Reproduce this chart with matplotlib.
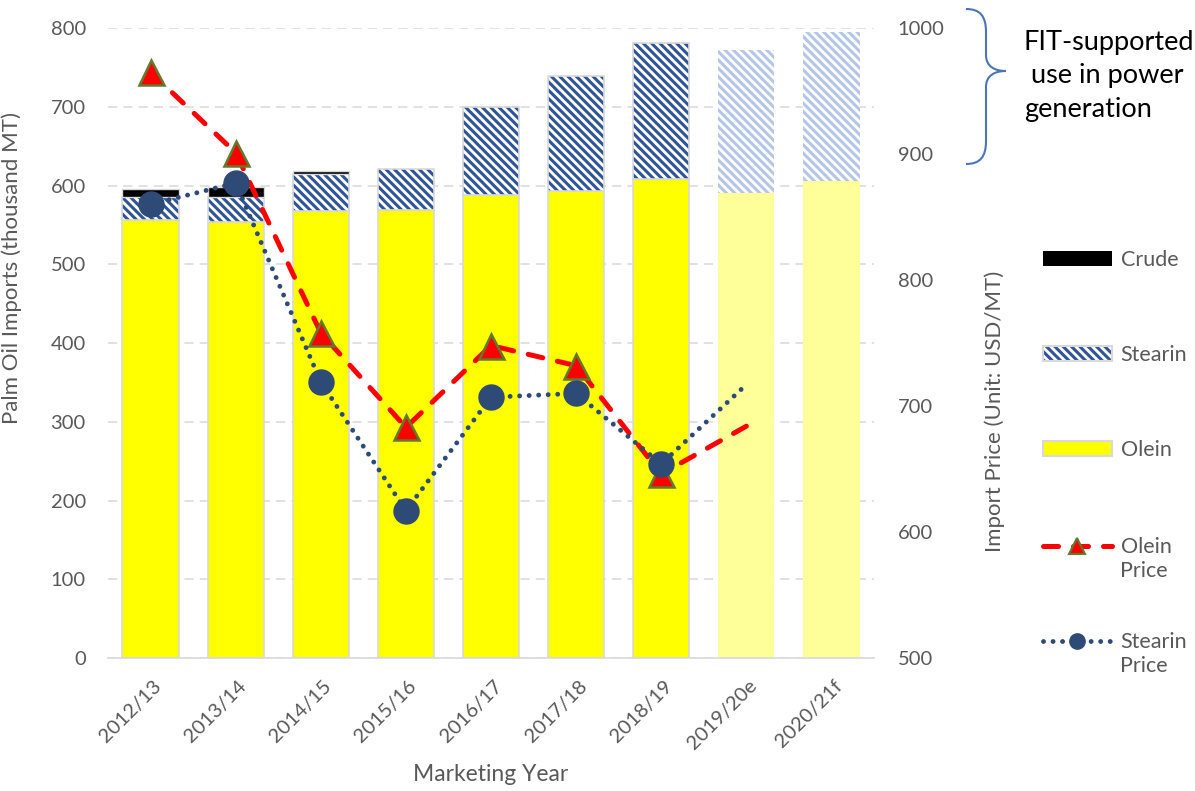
import numpy as np
import matplotlib
matplotlib.use("Agg")
import matplotlib.pyplot as plt
from matplotlib.patches import Patch, PathPatch
from matplotlib.lines import Line2D
from matplotlib.path import Path
from matplotlib.legend_handler import HandlerTuple, HandlerLine2D
from matplotlib.transforms import ScaledTranslation

plt.rcParams['font.family'] = ['Lato', 'DejaVu Sans']
plt.rcParams['hatch.linewidth'] = 2.2

years = ['2012/13', '2013/14', '2014/15', '2015/16', '2016/17', '2017/18',
         '2018/19', '2019/20e', '2020/21f']
olein = [556, 554, 567, 569, 588, 593, 608, 590, 606]
stearin = [29, 31, 48, 52, 112, 146, 173, 182, 189]
crude = [10, 13, 3, 0, 0, 0, 0, 0, 0]
n_actual = 7

olein_price = [965, 901, 758, 683, 748, 732, 646, 684]
stearin_price = [860, 877, 719, 617, 707, 710, 654, 717]

grey = '#595959'
edge = '#d9d9d9'
blue = '#2f5597'
light_blue = '#b4c7e7'
dot_blue = '#2e4a76'


class RaisedLine(HandlerLine2D):
    # put the line handle level with the first row of a two-line label
    def create_artists(self, legend, orig_handle, xdescent, ydescent, width, height,
                       fontsize, trans):
        return super().create_artists(legend, orig_handle, xdescent, ydescent - 20,
                                      width, height, fontsize, trans)


fig = plt.figure(figsize=(11.95, 7.91), dpi=100)
ax = fig.add_axes([0.0904, 0.1681, 0.641, 0.7965])
ax2 = ax.twinx()

x = np.arange(len(years))
olein = np.array(olein)
stearin = np.array(stearin)
crude = np.array(crude)
w = 0.66
act = x < n_actual
fc = ~act

# actual years
ax.bar(x[act], olein[act], w, color='#ffff00', edgecolor=edge, linewidth=1.2, zorder=2)
ax.bar(x[act], stearin[act], w, bottom=olein[act], color='white', edgecolor=blue,
       linewidth=0, hatch='\\\\\\\\', zorder=2)
ax.bar(x[act], stearin[act], w, bottom=olein[act], fill=False, edgecolor=edge,
       linewidth=1.2, zorder=2)
has_crude = act & (crude > 0)
ax.bar(x[has_crude], crude[has_crude], w, bottom=(olein + stearin)[has_crude],
       color='black', edgecolor=edge, linewidth=1.0, zorder=2)

# forecast years
ax.bar(x[fc], olein[fc], w, color='#ffff99', linewidth=0, zorder=2)
ax.bar(x[fc], stearin[fc], w, bottom=olein[fc], color='white', edgecolor=light_blue,
       linewidth=0, hatch='\\\\\\\\', zorder=2)

ax.set_xlim(-0.5, len(years) - 0.5)
ax.set_ylim(0, 800)
ax.set_yticks(range(0, 801, 100))
ax.set_axisbelow(True)
ax.yaxis.grid(True, color=edge, linestyle=(0, (6, 4)), linewidth=1.1)
for s in ['top', 'right', 'left']:
    ax.spines[s].set_visible(False)
ax.spines['bottom'].set_color(edge)
ax.spines['bottom'].set_linewidth(1.2)
ax.set_xticks(x)
ax.set_xticklabels(years, rotation=45, ha='right', va='center', rotation_mode='anchor')
ax.tick_params(axis='x', length=0, pad=18, labelsize=14.5, labelcolor=grey)
ax.tick_params(axis='y', length=0, pad=16, labelsize=14.5, labelcolor=grey)
shift = ScaledTranslation(0.08, 0, fig.dpi_scale_trans)
for lab in ax.get_xticklabels():
    lab.set_transform(lab.get_transform() + shift)
ax.set_xlabel('Marketing Year', fontsize=16.5, color=grey, labelpad=8)
ax.set_ylabel('Palm Oil Imports (thousand MT)', fontsize=16, color=grey)
ax.yaxis.set_label_coords(-0.112, 0.619)

# price lines
px = np.arange(len(olein_price))
ax2.plot(px, olein_price, color='#ff0000', linewidth=3.6, linestyle=(0, (3, 3)),
         dash_capstyle='round', marker='^', markersize=18, markerfacecolor='#ff0000',
         markeredgecolor='#617a2e', markeredgewidth=1.8, markevery=list(range(n_actual)),
         zorder=3)
ax2.plot(px, stearin_price, color=dot_blue, linewidth=3.5, linestyle=(0, (0.01, 1.95)),
         dash_capstyle='round', marker='o', markersize=18, markerfacecolor=dot_blue,
         markeredgecolor=dot_blue, markevery=list(range(n_actual)), zorder=4)
ax2.set_ylim(500, 1000)
ax2.set_yticks(range(500, 1001, 100))
for s in ['top', 'right', 'left', 'bottom']:
    ax2.spines[s].set_visible(False)
ax2.tick_params(axis='y', length=0, pad=17, labelsize=14.5, labelcolor=grey)
for lab in ax2.get_yticklabels():
    lab.set_ha('left')
ax2.set_ylabel('Import Price (Unit: USD/MT)', fontsize=16, color=grey)
ax2.yaxis.set_label_coords(1.1436, 0.392)

# legend, one entry per block so the spacing matches
crude_h = Patch(facecolor='black', edgecolor='none')
stearin_h = (Patch(facecolor='white', edgecolor=blue, linewidth=0, hatch='\\\\\\\\'),
             Patch(fill=False, edgecolor=edge, linewidth=1.5))
olein_h = Patch(facecolor='#ffff00', edgecolor=edge, linewidth=1.5)
olein_p = Line2D([], [], color='#ff0000', linewidth=3.6, linestyle=(0, (3, 3)),
                 dash_capstyle='round', marker='^', markersize=11,
                 markerfacecolor='#ff0000', markeredgecolor='#617a2e', markeredgewidth=1.5)
stearin_p = Line2D([], [], color=dot_blue, linewidth=3.5, linestyle=(0, (0.01, 1.95)),
                   dash_capstyle='round', marker='o', markersize=11,
                   markerfacecolor=dot_blue, markeredgecolor=dot_blue)
entries = [(crude_h, 'Crude', 260), (stearin_h, 'Stearin', 355), (olein_h, 'Olein', 450),
           (olein_p, 'Olein\nPrice', 559), (stearin_p, 'Stearin\nPrice', 654)]
for h, lab, yy in entries:
    fig.legend([h], [lab], loc='center left', bbox_to_anchor=(1043 / 1195, 1 - yy / 791),
               frameon=False, fontsize=15.5, handlelength=3.2, handletextpad=0.4,
               borderpad=0, borderaxespad=0, labelcolor=grey,
               handler_map={tuple: HandlerTuple(ndivide=1, pad=0), Line2D: RaisedLine()})

# brace + note
W, H = 1195.0, 791.0
pts = [(966, 9), (980, 9), (986, 16), (986, 32), (986, 55), (986, 66), (994, 71), (1006, 71),
       (994, 71), (986, 76), (986, 87), (986, 141), (986, 157), (980, 164), (966, 164)]
codes = [Path.MOVETO, Path.CURVE4, Path.CURVE4, Path.CURVE4, Path.LINETO,
         Path.CURVE4, Path.CURVE4, Path.CURVE4, Path.CURVE4, Path.CURVE4, Path.CURVE4,
         Path.LINETO, Path.CURVE4, Path.CURVE4, Path.CURVE4]
brace = Path([(px_ / W, 1 - py_ / H) for px_, py_ in pts], codes)
fig.add_artist(PathPatch(brace, fill=False, edgecolor='#4a76b8', linewidth=1.5,
                         transform=fig.transFigure))
fig.text(1024 / W, 1 - 76 / H, 'FIT-supported\n use in power\ngeneration', fontsize=19.5,
         color='black', ha='left', va='center', linespacing=1.42)

fig.savefig('out.png', dpi=100)
